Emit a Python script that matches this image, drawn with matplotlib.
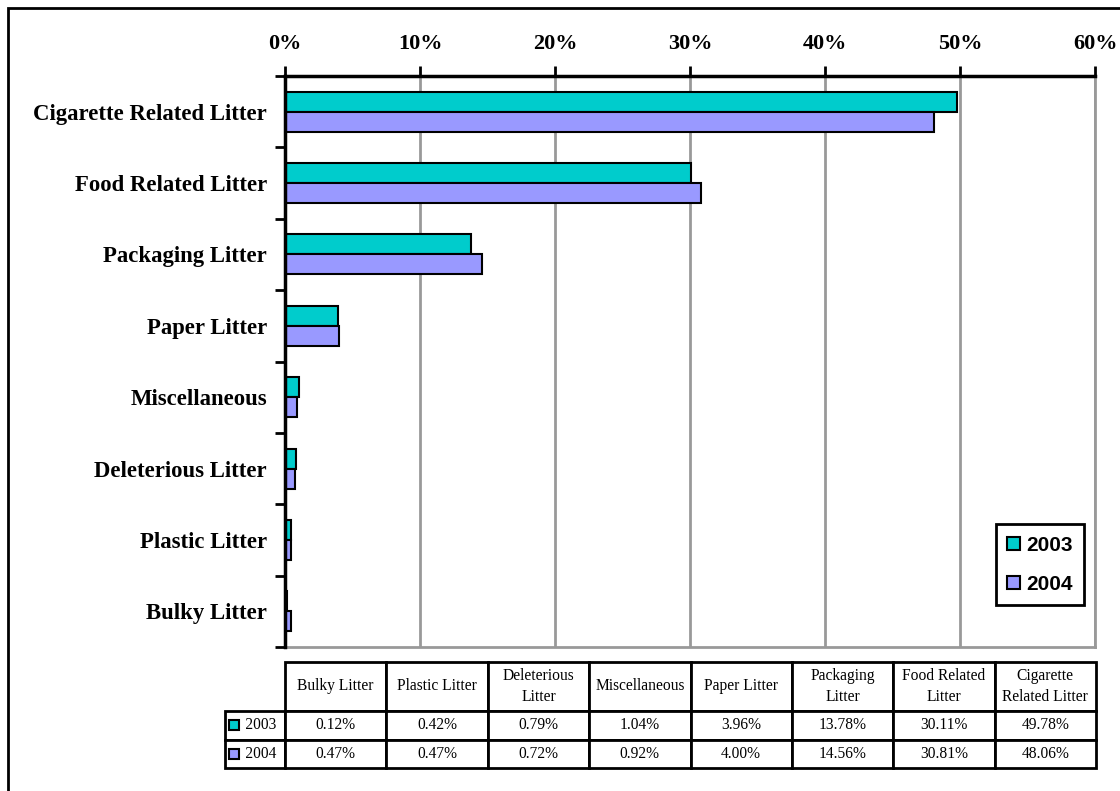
import matplotlib
matplotlib.use("Agg")
import matplotlib.pyplot as plt
from matplotlib.patches import Rectangle
from matplotlib.table import Table
from matplotlib.ticker import FuncFormatter

# ---------------- data ----------------
categories = ["Cigarette Related Litter", "Food Related Litter", "Packaging Litter",
              "Paper Litter", "Miscellaneous", "Deleterious Litter",
              "Plastic Litter", "Bulky Litter"]
values_2003 = [49.78, 30.11, 13.78, 3.96, 1.04, 0.79, 0.42, 0.12]
values_2004 = [48.06, 30.81, 14.56, 4.00, 0.92, 0.72, 0.47, 0.47]
series_names = ["2003", "2004"]
table_headers = ["Bulky Litter", "Plastic Litter", "Deleterious\nLitter", "Miscellaneous",
                 "Paper Litter", "Packaging\nLitter", "Food Related\nLitter",
                 "Cigarette\nRelated Litter"]
x_ticks = [0, 10, 20, 30, 40, 50, 60]

c2003 = "#00CCCC"
c2004 = "#9999FF"
grid_gray = "#999999"

W, H = 1120, 791
fig = plt.figure(figsize=(W / 100, H / 100), dpi=100)
fig.patch.set_facecolor("white")

def px_axes(l, t, r, b):
    return [l / W, 1 - b / H, (r - l) / W, (b - t) / H]

ax = fig.add_axes(px_axes(285, 76, 1095, 647))

n = len(categories)
ys = list(range(n))
bh = 0.28
ax.barh([y - bh / 2 for y in ys], values_2003, height=bh, color=c2003,
        edgecolor="black", linewidth=1.5, label=series_names[0], zorder=3)
ax.barh([y + bh / 2 for y in ys], values_2004, height=bh, color=c2004,
        edgecolor="black", linewidth=1.5, label=series_names[1], zorder=3)

ax.set_xlim(x_ticks[0], x_ticks[-1])
ax.set_ylim(n - 0.5, -0.5)

# x axis on top
ax.xaxis.tick_top()
ax.set_xticks(x_ticks)
ax.xaxis.set_major_formatter(FuncFormatter(lambda v, p: f"{v:.0f}%"))
ax.tick_params(axis="x", which="major", direction="out", length=7, width=2,
               pad=9, labelsize=16, colors="black")
for lab in ax.get_xticklabels():
    lab.set_fontfamily("Liberation Serif")
    lab.set_fontweight("bold")

# y axis: labels at categories, ticks at band boundaries
ax.set_yticks(ys)
ax.set_yticklabels(categories, fontfamily="Liberation Serif", fontweight="bold",
                   fontsize=16.4)
ax.tick_params(axis="y", which="major", length=0, pad=13)
ax.set_yticks([y - 0.5 for y in range(n + 1)], minor=True)
ax.tick_params(axis="y", which="minor", direction="out", length=7, width=2)

ax.grid(axis="x", color=grid_gray, linewidth=2, zorder=0)
ax.set_axisbelow(True)

for side in ["left", "top"]:
    ax.spines[side].set_color("black")
    ax.spines[side].set_linewidth(2.5)
for side in ["right", "bottom"]:
    ax.spines[side].set_color(grid_gray)
    ax.spines[side].set_linewidth(2)
ax.spines["left"].set_zorder(4)

# legend
leg = ax.legend(loc="lower right", bbox_to_anchor=(0.9864, 0.0736),
                prop={"family": "Liberation Sans", "weight": "bold", "size": 15},
                frameon=True, fancybox=False, framealpha=1, edgecolor="black",
                handlelength=0.6, handleheight=0.6, handletextpad=0.3,
                labelspacing=0.95, borderpad=0.55, borderaxespad=0)
leg.get_frame().set_linewidth(2)

# ---------------- data table ----------------
tab_l, tab_r, tab_t, tab_b = 225, 1096, 662, 768
ax0_l, ax0_r, ax0_t, ax0_b = 285, 1095, 76, 647
aw, ah = ax0_r - ax0_l, ax0_b - ax0_t
bbox = [(tab_l - ax0_l) / aw, (ax0_b - tab_b) / ah,
        (tab_r - tab_l) / aw, (tab_b - tab_t) / ah]
tb = Table(ax, bbox=bbox)
rowlab_w = 60 / aw
col_w = (tab_r - 285) / len(table_headers) / aw
head_h, row_h = 49 / ah, 28.5 / ah
rows_vals = [values_2003[::-1], values_2004[::-1]]
blank = tb.add_cell(0, 0, width=rowlab_w, height=head_h, text="")
blank.visible_edges = "open"
for j, hdr in enumerate(table_headers):
    tb.add_cell(0, j + 1, width=col_w, height=head_h, text=hdr, loc="center")
for i, vals in enumerate(rows_vals):
    tb.add_cell(i + 1, 0, width=rowlab_w, height=row_h,
                text="     " + series_names[i], loc="left")
    for j, v in enumerate(vals):
        tb.add_cell(i + 1, j + 1, width=col_w, height=row_h, text=f"{v:.2f}%",
                    loc="center")
tb.auto_set_font_size(False)
for (r, cidx), cell in tb.get_celld().items():
    cell.set_linewidth(2)
    cell.set_edgecolor("black")
    cell.set_clip_on(False)
    cell.PAD = 0.02
    t = cell.get_text()
    t.set_fontfamily("Liberation Serif")
    t.set_fontsize(11.2)
    t.set_linespacing(1.35)
    t.set_clip_on(False)
ax.add_table(tb)
tb.set_clip_on(False)

# legend keys in row labels
for i, col in enumerate([c2003, c2004]):
    y_c = tab_t + 49 + 28.5 * (i + 0.5)
    sq = 10
    fig.patches.append(Rectangle((229 / W, 1 - (y_c + sq / 2) / H), sq / W, sq / H,
                                 transform=fig.transFigure, facecolor=col,
                                 edgecolor="black", linewidth=1.5, zorder=5))

# outer border (cropped chart frame)
fig.patches.append(Rectangle((8 / W, -0.1), 1.2, 1 - 8 / H + 0.1,
                             transform=fig.transFigure, fill=False,
                             edgecolor="black", linewidth=2))

fig.savefig("out.png", dpi=100)
